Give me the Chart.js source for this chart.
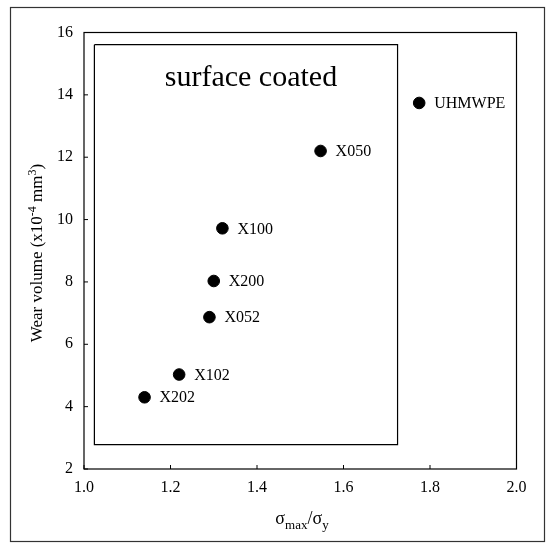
<!DOCTYPE html>
<html>
<head>
<meta charset="utf-8">
<script src="https://cdn.jsdelivr.net/npm/chart.js@4/dist/chart.umd.min.js"></script>
<style>
  html, body { margin: 0; padding: 0; background: #ffffff; }
  #wrap { width: 547px; height: 544px; position: relative; }
</style>
</head>
<body>
<div id="wrap"><canvas id="c" width="547" height="544"></canvas></div>
<script>
// ---- data ----
const sampleNames = ['X202', 'X102', 'X052', 'X200', 'X100', 'X050', 'UHMWPE'];
const stressRatio = [1.14, 1.22, 1.29, 1.30, 1.32, 1.547, 1.775];
const wearVolume  = [4.30, 5.03, 6.87, 8.03, 9.72, 12.20, 13.74];

const boxX = [1.024, 1.725, 1.725, 1.024, 1.024];
const boxY = [15.61, 15.61, 2.78, 2.78, 15.61];

const xTickValues = [1.0, 1.2, 1.4, 1.6, 1.8, 2.0];
const xTickLabels = ['1.0', '1.2', '1.4', '1.6', '1.8', '2.0'];
const yTickValues = [2, 4, 6, 8, 10, 12, 14, 16];
const yTickLabels = ['2', '4', '6', '8', '10', '12', '14', '16'];

const groupLabel = 'surface coated';
const groupLabelAt = [1.386, 14.53];

const yTitleParts = [['Wear volume (x10', 'n'], ['-4', 'sup'], [' mm', 'n'], ['3', 'sup'], [')', 'n']];
const xTitleParts = [['σ', 'n'], ['max', 'sub'], ['/σ', 'n'], ['y', 'sub']];

const FONT = '"Liberation Serif", "Times New Roman", serif';

function drawRich(ctx, parts, cx, cy, rot, size, smallSize, shift) {
  ctx.save();
  ctx.translate(cx, cy);
  ctx.rotate(rot);
  ctx.fillStyle = '#000';
  ctx.textBaseline = 'alphabetic';
  ctx.textAlign = 'left';
  let total = 0;
  const widths = parts.map(p => {
    ctx.font = (p[1] === 'n' ? size : smallSize) + 'px ' + FONT;
    const w = ctx.measureText(p[0]).width;
    total += w;
    return w;
  });
  let x = -total / 2;
  const base = size * 0.33;
  parts.forEach((p, i) => {
    ctx.font = (p[1] === 'n' ? size : smallSize) + 'px ' + FONT;
    let dy = 0;
    if (p[1] === 'sup') dy = -shift;
    if (p[1] === 'sub') dy = shift;
    ctx.fillText(p[0], x, base + dy);
    x += widths[i];
  });
  ctx.restore();
}

const decor = {
  id: 'decor',
  beforeDraw(chart) {
    const ctx = chart.ctx;
    ctx.save();
    ctx.fillStyle = '#fff';
    ctx.fillRect(0, 0, chart.width, chart.height);
    // page border
    ctx.strokeStyle = '#333';
    ctx.lineWidth = 1.2;
    ctx.strokeRect(10.5, 7.5, 534, 534);
    ctx.restore();
  },
  afterDatasetsDraw(chart) {
    const ctx = chart.ctx;
    const a = chart.chartArea;
    const xs = chart.scales.x, ys = chart.scales.y;
    ctx.save();
    // frame
    ctx.strokeStyle = '#000';
    ctx.lineWidth = 1.2;
    ctx.strokeRect(a.left, a.top, a.right - a.left, a.bottom - a.top);
    // inward ticks
    ctx.lineWidth = 1;
    xs.ticks.forEach(t => {
      const px = xs.getPixelForValue(t.value);
      ctx.beginPath(); ctx.moveTo(px, a.bottom); ctx.lineTo(px, a.bottom - 4); ctx.stroke();
    });
    ys.ticks.forEach(t => {
      const py = ys.getPixelForValue(t.value);
      ctx.beginPath(); ctx.moveTo(a.left, py); ctx.lineTo(a.left + 4, py); ctx.stroke();
    });
    // point labels
    ctx.fillStyle = '#000';
    ctx.font = '16px ' + FONT;
    ctx.textAlign = 'left';
    ctx.textBaseline = 'middle';
    const meta = chart.getDatasetMeta(0);
    meta.data.forEach((pt, i) => {
      ctx.fillText(sampleNames[i], pt.x + 15, pt.y + 1);
    });
    // group label
    ctx.font = '30px ' + FONT;
    ctx.textAlign = 'center';
    ctx.fillText(groupLabel, xs.getPixelForValue(groupLabelAt[0]), ys.getPixelForValue(groupLabelAt[1]));
    ctx.restore();
    // axis titles
    drawRich(ctx, yTitleParts, 36, 253, -Math.PI / 2, 17, 12, 6);
    drawRich(ctx, xTitleParts, 302, 518, 0, 18, 13, 5);
  }
};

new Chart(document.getElementById('c'), {
  type: 'scatter',
  data: {
    datasets: [
      {
        data: stressRatio.map((v, i) => ({ x: v, y: wearVolume[i] })),
        backgroundColor: '#000',
        borderColor: '#000',
        pointRadius: 5.8,
        pointHoverRadius: 5.8,
        showLine: false
      },
      {
        data: boxX.map((v, i) => ({ x: v, y: boxY[i] })),
        showLine: true,
        borderColor: '#000',
        borderWidth: 1.2,
        pointRadius: 0,
        fill: false,
        tension: 0
      }
    ]
  },
  plugins: [decor],
  options: {
    responsive: false,
    animation: false,
    events: [],
    layout: { padding: { top: 32.5, right: 30.5, left: 0, bottom: 0 } },
    plugins: { legend: { display: false }, tooltip: { enabled: false }, title: { display: false } },
    scales: {
      x: {
        type: 'linear',
        min: 1.0, max: 2.0,
        afterBuildTicks: s => { s.ticks = xTickValues.map(v => ({ value: v })); },
        afterFit: s => { s.height = 75; },
        grid: { display: false, drawTicks: false },
        border: { display: false },
        ticks: {
          color: '#000',
          font: { family: FONT, size: 16 },
          padding: 9,
          maxRotation: 0,
          callback: (v, i) => xTickLabels[i]
        }
      },
      y: {
        type: 'linear',
        min: 2, max: 16,
        afterBuildTicks: s => { s.ticks = yTickValues.map(v => ({ value: v })); },
        afterFit: s => { s.width = 84; },
        grid: { display: false, drawTicks: false },
        border: { display: false },
        ticks: {
          color: '#000',
          font: { family: FONT, size: 16 },
          padding: 11,
          callback: (v, i) => yTickLabels[i]
        }
      }
    }
  }
});
</script>
</body>
</html>
